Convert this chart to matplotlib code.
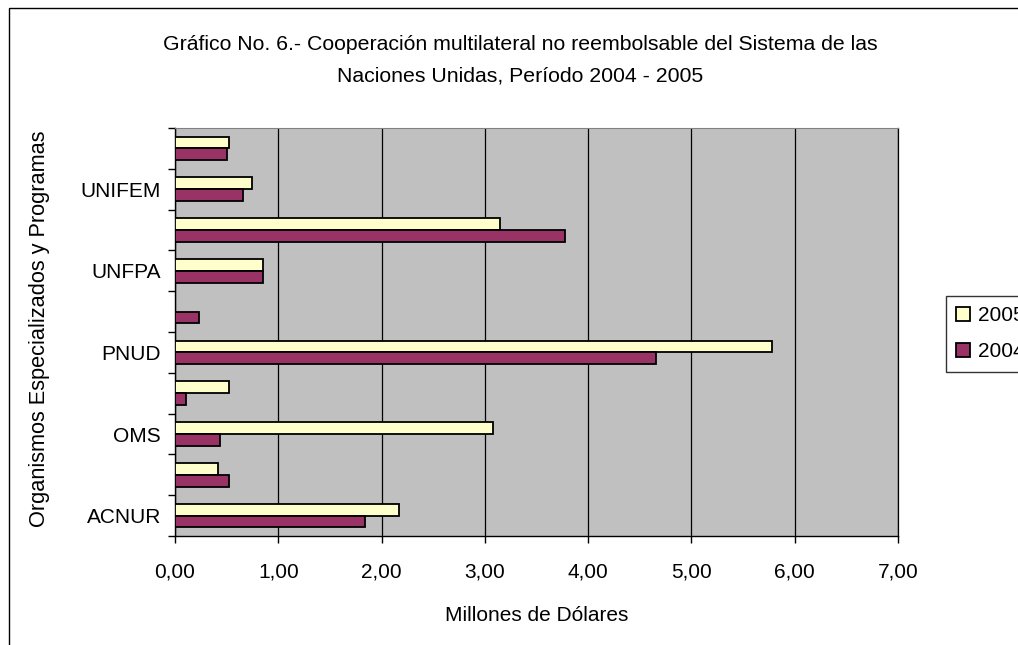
import matplotlib
matplotlib.use("Agg")
import matplotlib.pyplot as plt
import numpy as np
from matplotlib.patches import Rectangle
from matplotlib.ticker import FuncFormatter, FixedLocator

plt.rcParams['font.family'] = ['Liberation Sans', 'DejaVu Sans']

# Categories bottom to top; only every other one is labelled in the original
tick_labels = ["ACNUR", "", "OMS", "", "PNUD", "", "UNFPA", "", "UNIFEM", ""]
values_2005 = [2.17, 0.42, 3.08, 0.52, 5.78, 0.0, 0.85, 3.15, 0.75, 0.52]
values_2004 = [1.84, 0.52, 0.44, 0.11, 4.66, 0.23, 0.85, 3.78, 0.66, 0.50]
series_names = ["2005", "2004"]
x_ticks = [0, 1, 2, 3, 4, 5, 6, 7]

W, H = 1018, 645
fig = plt.figure(figsize=(W / 100, H / 100), dpi=100)
fig.patch.set_facecolor("white")

# chart outer border (extends beyond right/bottom edges)
fig.patches.append(Rectangle((8.5 / W, -0.1), 1.2, 1 - 8.5 / H + 0.1,
                             transform=fig.transFigure, fill=False,
                             edgecolor="#000000", linewidth=1.0))

left, right, top, bottom = 175 / W, 898 / W, 1 - 128 / H, 1 - 536 / H
ax = fig.add_axes([left, bottom, right - left, top - bottom])
ax.set_facecolor("#C0C0C0")

n = len(tick_labels)
y = np.arange(n)
bh = 0.29
ax.barh(y + bh / 2, values_2005, height=bh, color="#FFFFCC", edgecolor="black",
        linewidth=1.3, label=series_names[0], zorder=3)
ax.barh(y - bh / 2, values_2004, height=bh, color="#993366", edgecolor="black",
        linewidth=1.3, label=series_names[1], zorder=3)

ax.set_xlim(0, 7)
ax.set_ylim(-0.5, n - 0.5)
ax.set_xticks(x_ticks)
ax.xaxis.set_major_formatter(FuncFormatter(lambda v, p: f"{v:.2f}".replace(".", ",")))
ax.grid(axis="x", color="#000000", linewidth=0.9, zorder=0)
ax.set_axisbelow(True)

# y ticks: marks at boundaries, labels at centers
ax.yaxis.set_major_locator(FixedLocator(np.arange(-0.5, n, 1.0)))
ax.yaxis.set_major_formatter(FuncFormatter(lambda v, p: ""))
ax.yaxis.set_minor_locator(FixedLocator(y))
ax.set_yticklabels(tick_labels, minor=True)
ax.tick_params(axis="y", which="major", length=5, width=1, direction="out")
ax.tick_params(axis="y", which="minor", length=0, pad=10, labelsize=15)
ax.tick_params(axis="x", which="major", length=5, width=1, direction="out", pad=14, labelsize=15)

for s in ["left", "bottom"]:
    ax.spines[s].set_color("black")
    ax.spines[s].set_linewidth(1.0)
ax.spines["top"].set_color("#808080")
ax.spines["right"].set_color("#000000")
ax.spines["right"].set_linewidth(0.9)

ax.set_xlabel("Millones de Dólares", fontsize=15, labelpad=18)
fig.text(40 / W, 1 - 329 / H, "Organismos Especializados y Programas", rotation=90,
         ha="center", va="center", fontsize=15.7)

fig.text(520 / W, 1 - 45 / H, "Gráfico No. 6.- Cooperación multilateral no reembolsable del Sistema de las",
         ha="center", va="center", fontsize=15.3)
fig.text(520 / W, 1 - 76 / H, "Naciones Unidas, Período 2004 - 2005",
         ha="center", va="center", fontsize=15.3)

leg = fig.legend(loc="upper left", bbox_to_anchor=(946 / W, 1 - 296 / H),
                 frameon=True, fancybox=False, fontsize=15, handlelength=0.65,
                 handleheight=0.65, handletextpad=0.4, borderpad=0.5, labelspacing=0.8,
                 borderaxespad=0)
leg.get_frame().set_edgecolor("black")
leg.get_frame().set_linewidth(1.0)

fig.savefig("out.png", dpi=100)
